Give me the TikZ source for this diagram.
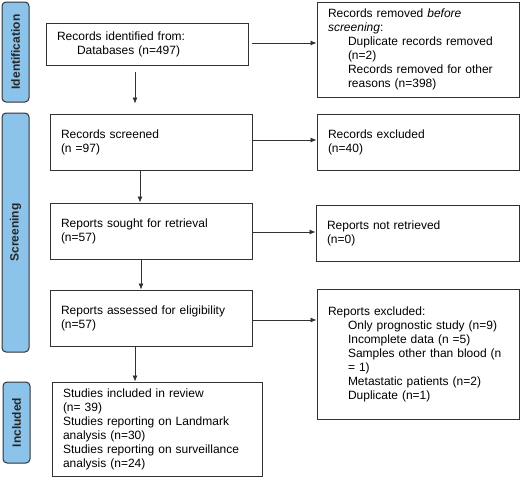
\documentclass[tikz,border=0pt]{standalone}
\usepackage{fontspec}
\setmainfont{Liberation Sans}
\usetikzlibrary{arrows.meta,calc}
\definecolor{barblue}{RGB}{140,195,235}
\definecolor{edgecol}{RGB}{50,50,50}
\begin{document}
\begin{tikzpicture}[x=1pt,y=-1pt,
  box/.style={draw=edgecol, line width=0.9pt, fill=white, align=left, inner xsep=11pt, inner ysep=0pt, font=\fontsize{12}{14}\selectfont},
  bar/.style={draw=edgecol, line width=1pt, fill=barblue, rounded corners=4pt, minimum height=27pt, inner sep=0pt, rotate=90, font=\bfseries\fontsize{12}{14}\selectfont, text=black!85},
  arr/.style={draw=edgecol, line width=0.8pt, -{Latex[length=6pt,width=5pt]}}]
\useasboundingbox (0,0) rectangle (520,480);
% phase bars
\node[bar, minimum width=100pt] (idb) at (15.5,52) {Identification};
\node[bar, minimum width=239pt] (scb) at (15.5,232.5) {Screening};
\node[bar, minimum width=81pt] (inb) at (16.5,422.5) {Included};
% left column
\node[box, text width=180pt, minimum height=42pt] (A) at (147,44)
  {Records identified from:\\\hspace*{20pt}Databases (n=497)};
\node[box, text width=180pt, minimum height=56pt] (B) at (151,142)
  {Records screened\\(n =97)};
\node[box, text width=180pt, minimum height=56pt] (C) at (151,231)
  {Reports sought for retrieval\\(n=57)};
\node[box, text width=180pt, minimum height=56pt] (D) at (151,318)
  {Reports assessed for eligibility\\(n=57)};
\node[box, text width=188pt, minimum height=94pt] (E) at (157,429)
  {Studies included in review\\(n= 39)\\Studies reporting on Landmark\\analysis (n=30)\\Studies reporting on surveillance\\analysis (n=24)};
% right column
\node[box, text width=180pt, minimum height=95pt] (R1) at (418,49.5)
  {Records removed \textit{before}\\\textit{screening}:\\\hspace*{20pt}Duplicate records removed\\\hspace*{20pt}(n=2)\\\hspace*{20pt}Records removed for other\\\hspace*{20pt}reasons (n=398)};
\node[box, text width=180pt, minimum height=56pt] (R2) at (418,142)
  {Records excluded\\(n=40)};
\node[box, text width=181pt, minimum height=56pt] (R3) at (417.5,233)
  {Reports not retrieved\\(n=0)};
\node[box, text width=180pt, minimum height=130pt] (R4) at (418,354)
  {Reports excluded:\\\hspace*{20pt}Only prognostic study (n=9)\\\hspace*{20pt}Incomplete data (n =5)\\\hspace*{20pt}Samples other than blood (n\\\hspace*{20pt}= 1)\\\hspace*{20pt}Metastatic patients (n=2)\\\hspace*{20pt}Duplicate (n=1)\\[6pt]};
% vertical arrows
\draw[arr, shorten <=7pt, shorten >=10pt] (A.south -| 135,0) -- (B.north -| 135,0);
\draw[arr] (B.south -| 140,0) -- (C.north -| 140,0);
\draw[arr] (C.south -| 141,0) -- (D.north -| 141,0);
\draw[arr] (D.south -| 135,0) -- (E.north -| 135,0);
% horizontal arrows
\draw[arr, shorten <=4pt] (A.east |- 0,43) -- (R1.west |- 0,43);
\draw[arr] (B.east |- 0,140) -- (R2.west |- 0,140);
\draw[arr] (C.east |- 0,232) -- (R3.west |- 0,232);
\draw[arr] (D.east |- 0,320) -- (R4.west |- 0,320);
\end{tikzpicture}
\end{document}
